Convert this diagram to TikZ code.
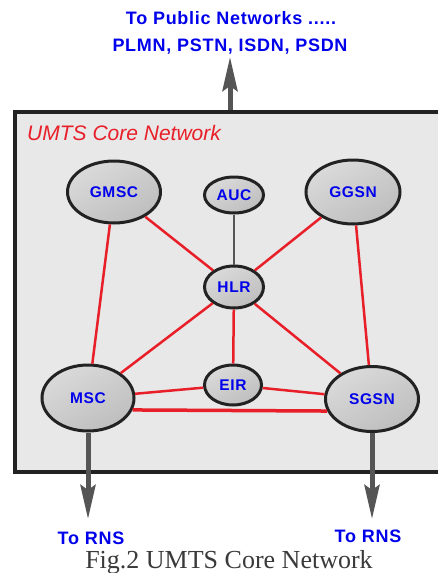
\documentclass[tikz,border=0pt]{standalone}
\usepackage{fontspec}
\setmainfont{Liberation Serif}
\newfontfamily\netfont{Liberation Sans}[LetterSpace=4.0]
\newfontfamily\umtsfont{Liberation Sans}
\usetikzlibrary{shapes.geometric,arrows.meta}
\definecolor{umtsdark}{RGB}{34,34,34}
\definecolor{umtsbox}{RGB}{232,232,232}
\definecolor{umtsred}{RGB}{232,30,40}
\definecolor{umtsblue}{RGB}{0,0,235}
\definecolor{umtsgray}{RGB}{85,85,85}
\definecolor{umtshi}{RGB}{218,218,218}
\definecolor{umtslo}{RGB}{190,190,190}
\definecolor{umtscap}{RGB}{58,58,58}
\tikzstyle{element} = [ellipse, draw=umtsdark, line width=3pt, inner sep=0pt, top color=umtshi, bottom color=umtslo, shading angle=30, text=umtsblue, font=\netfont\bfseries\fontsize{15.5}{15.5}\selectfont]
\tikzstyle{link} = [line width=2.5pt, color=umtsred]
\tikzstyle{extlink} = [line width=5pt, color=umtsgray, -{Stealth[length=34pt,width=15pt,inset=5pt]}]
\tikzstyle{extlabel} = [inner sep=0pt, text=umtsblue, font=\netfont\bfseries\fontsize{18}{18}\selectfont]

\begin{document}
\begin{tikzpicture}[x=1pt, y=-1pt]
\useasboundingbox (0,0) rectangle (437,573);
% Core network frame
\node (core) [draw=umtsdark, line width=4pt, fill=umtsbox, minimum width=430pt, minimum height=360pt, inner sep=0pt] at (230,292) {};
\node (title) [anchor=west, inner sep=0pt, text=umtsred, font=\umtsfont\itshape\fontsize{21}{21}\selectfont] at (27,133) {UMTS Core Network};

% Network elements
\node (gmsc) [element, minimum width=93pt, minimum height=62pt] at (114,192) {GMSC};
\node (auc) [element, minimum width=59pt, minimum height=36pt] at (234,195) {AUC};
\node (ggsn) [element, minimum width=94pt, minimum height=64pt] at (353,192) {GGSN};
\node (hlr) [element, minimum width=59pt, minimum height=42pt] at (234,287) {HLR};
\node (msc) [element, minimum width=92pt, minimum height=66pt] at (88,398) {MSC};
\node (eir) [element, minimum width=57pt, minimum height=40pt] at (233,385) {EIR};
\node (sgsn) [element, minimum width=93pt, minimum height=65pt] at (372,399) {SGSN};

% Interfaces
\draw[link] (gmsc) -- (hlr);
\draw[link] (ggsn) -- (hlr);
\draw[link] (gmsc) -- (msc);
\draw[link] (ggsn) -- (sgsn);
\draw[link] (hlr) -- (msc);
\draw[link] (hlr) -- (sgsn);
\draw[link] (hlr) -- (eir);
\draw[link] (eir) -- (msc);
\draw[link] (eir) -- (sgsn);
\draw[link, line width=3.5pt] (msc.-15) -- (sgsn.195);
\draw[line width=2pt, umtsgray] (auc) -- (hlr);

% Outside connections
\node (pubTo) [extlabel] at (231,18) {To Public Networks .....};
\node (pubNets) [extlabel] at (230,47) {PLMN, PSTN, ISDN, PSDN};
\node (rnsL) [extlabel] at (91,538) {To RNS};
\node (rnsR) [extlabel] at (368,536) {To RNS};
\coordinate (toPub) at (230,57);
\coordinate (toRnsL) at (88,519);
\coordinate (toRnsR) at (372,519);
\draw[extlink] (core.north) -- (toPub);
\draw[extlink] (msc.south) -- (toRnsL);
\draw[extlink] (sgsn.south) -- (toRnsR);

\node (caption) [inner sep=0pt, text=umtscap, font=\fontsize{26}{26}\selectfont] at (229,562) {Fig.2 UMTS Core Network};
\end{tikzpicture}
\end{document}
